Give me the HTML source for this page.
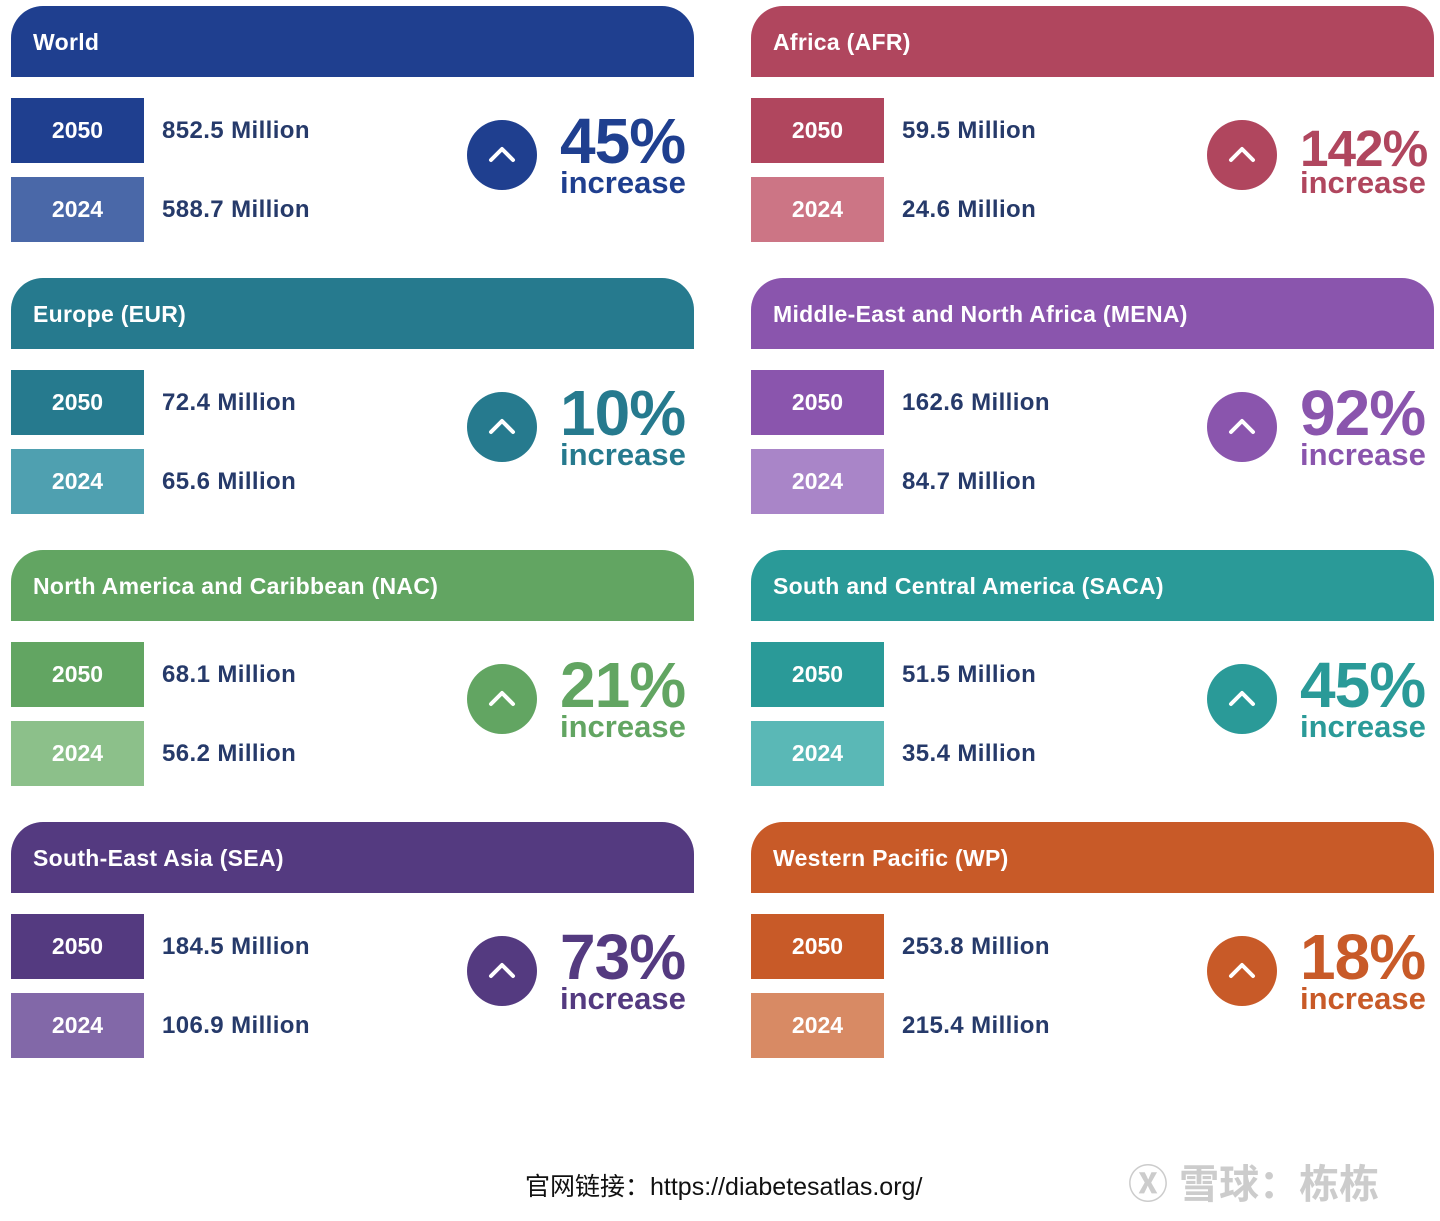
<!DOCTYPE html>
<html><head><meta charset="utf-8">
<style>
body{margin:0;width:1440px;height:1221px;background:#fff;position:relative;overflow:hidden;font-family:"Liberation Sans","Noto Sans CJK SC",sans-serif;}
.p{position:absolute;width:683px;height:260px;}
.h{position:absolute;left:0;top:0;width:683px;height:71px;border-radius:32px 32px 0 0;color:#fff;font-weight:bold;font-size:23px;line-height:72px;text-indent:22px;letter-spacing:0.3px;}
.y{position:absolute;left:0;width:133px;height:65px;color:#fff;font-weight:bold;font-size:23px;line-height:65px;text-align:center;}
.v{position:absolute;left:151px;color:#263a6a;font-weight:bold;font-size:24px;letter-spacing:0.4px;line-height:65px;}
.c{position:absolute;left:456px;top:114px;width:70px;height:70px;border-radius:50%;}
.c svg{position:absolute;left:0;top:0}
.pc{position:absolute;left:549px;top:100px;font-weight:bold;font-size:64px;line-height:70px;letter-spacing:-1px;white-space:nowrap;}
.inc{position:absolute;left:549px;top:160px;font-weight:bold;font-size:31px;line-height:34px;}
.foot{position:absolute;left:525px;top:1167px;font-size:25px;color:#111;}
.wm{position:absolute;left:1128px;top:1152px;font-size:40px;color:#ccc;font-weight:bold;}
</style></head><body>
<div id="root"></div>
<div class="foot">官网链接：https://diabetesatlas.org/</div>
<div class="wm">Ⓧ 雪球：栋栋</div>
<script>
const regions=["World","Africa (AFR)","Europe (EUR)","Middle-East and North Africa (MENA)","North America and Caribbean (NAC)","South and Central America (SACA)","South-East Asia (SEA)","Western Pacific (WP)"];
const values2050=["852.5","59.5","72.4","162.6","68.1","51.5","184.5","253.8"];
const values2024=["588.7","24.6","65.6","84.7","56.2","35.4","106.9","215.4"];
const increases=["45%","142%","10%","92%","21%","45%","73%","18%"];
const colorsMain=["#1f3f8f","#b0465e","#267a8e","#8a55ad","#62a562","#2a9a98","#543a80","#c85a28"];
const colorsLight=["#4a68a8","#cc7585","#4fa0b0","#a985c8","#8cc08a","#5ab8b6","#8268a8","#d88a64"];
const root=document.getElementById('root');
regions.forEach((r,i)=>{
  const p=document.createElement('div');p.className='p';
  
  
  p.style.left=(i%2?751:11)+'px';p.style.top=(6+Math.floor(i/2)*272)+'px';
  const c=colorsMain[i],l=colorsLight[i];
  p.innerHTML=`<div class="h" style="background:${c}">${r}</div>
<div class="y" style="top:92px;background:${c}">2050</div>
<div class="v" style="top:92px">${values2050[i]} Million</div>
<div class="y" style="top:171px;background:${l}">2024</div>
<div class="v" style="top:171px">${values2024[i]} Million</div>
<div class="c" style="background:${c}"><svg width="70" height="70"><polyline points="24,40 35,29 46,40" fill="none" stroke="#fff" stroke-width="4" stroke-linecap="round" stroke-linejoin="round"/></svg></div>
<div class="pc" style="color:${c}">${increases[i]}</div>
<div class="inc" style="color:${c}">increase</div>`;
  root.appendChild(p);
  const pc=p.querySelector('.pc');
  const w=pc.getBoundingClientRect().width;
  if(w>130){const fs=64*128/w;pc.style.fontSize=fs+'px';pc.style.top=(100+(64-fs)*0.6)+'px';}
});
</script>
</body></html>
